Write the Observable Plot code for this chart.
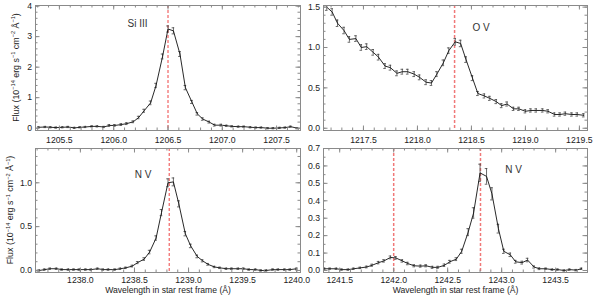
<!DOCTYPE html>
<html><head><meta charset="utf-8">
<script src="https://cdn.jsdelivr.net/npm/d3@7"></script>
<script src="https://cdn.jsdelivr.net/npm/@observablehq/plot@0.6"></script>
<style>
body{margin:0;background:#fff}
#chart{position:relative;width:598px;height:299px;background:#fff;overflow:hidden}
#chart svg{position:absolute;overflow:visible}
</style>
</head><body><div id="chart"></div>
<script>
// ---------- Panel 1: Si III ----------
const p1Wave = [1205.31,1205.37,1205.42,1205.47,1205.53,1205.58,1205.64,1205.69,1205.74,1205.80,1205.85,1205.91,1205.96,1206.01,1206.07,1206.12,1206.18,1206.23,1206.28,1206.34,1206.39,1206.45,1206.50,1206.55,1206.61,1206.66,1206.72,1206.77,1206.82,1206.88,1206.93,1206.99,1207.04,1207.09,1207.15,1207.20,1207.26,1207.31,1207.36,1207.42,1207.47,1207.53,1207.58,1207.63,1207.69];
const p1Flux = [0.03,0.04,0.03,0.02,0.03,0.04,0.01,0.03,0.04,0.06,0.06,0.04,0.09,0.09,0.12,0.15,0.21,0.35,0.57,0.83,1.40,2.35,3.25,3.19,2.43,1.33,0.86,0.47,0.30,0.20,0.10,0.10,0.08,0.06,0.05,0.05,0.03,0.02,0.02,0.00,0.00,0.01,0.02,0.05,0.00];
const p1Err  = [0.02,0.02,0.02,0.02,0.02,0.02,0.02,0.02,0.02,0.02,0.02,0.02,0.03,0.03,0.03,0.03,0.03,0.04,0.05,0.06,0.07,0.08,0.10,0.10,0.08,0.07,0.05,0.04,0.04,0.03,0.03,0.03,0.02,0.02,0.02,0.02,0.02,0.02,0.02,0.02,0.02,0.02,0.02,0.02,0.02];
const p1Rest = [1206.50];
const p1XTicks = [1205.5,1206.0,1206.5,1207.0,1207.5];
const p1YTicks = [0,1,2,3,4];

// ---------- Panel 2: O V ----------
const p2Wave = [1217.16,1217.21,1217.26,1217.32,1217.37,1217.43,1217.48,1217.53,1217.59,1217.64,1217.70,1217.75,1217.81,1217.86,1217.91,1217.97,1218.02,1218.08,1218.13,1218.18,1218.24,1218.29,1218.35,1218.40,1218.45,1218.51,1218.56,1218.62,1218.67,1218.73,1218.78,1218.83,1218.89,1218.94,1219.00,1219.05,1219.10,1219.16,1219.21,1219.27,1219.32,1219.37,1219.43,1219.48,1219.54];
const p2Flux = [1.50,1.44,1.30,1.21,1.10,1.11,1.00,1.01,0.94,0.88,0.77,0.75,0.68,0.70,0.70,0.67,0.63,0.57,0.56,0.67,0.81,0.96,1.07,1.05,0.85,0.62,0.43,0.40,0.37,0.33,0.28,0.30,0.24,0.24,0.21,0.22,0.22,0.22,0.21,0.17,0.17,0.18,0.17,0.17,0.16];
const p2Err  = [0.04,0.04,0.04,0.04,0.035,0.035,0.035,0.035,0.035,0.035,0.03,0.03,0.03,0.03,0.03,0.03,0.03,0.03,0.03,0.03,0.035,0.035,0.04,0.04,0.035,0.03,0.025,0.025,0.025,0.025,0.025,0.025,0.02,0.02,0.02,0.02,0.02,0.02,0.02,0.02,0.02,0.02,0.02,0.02,0.02];
const p2Rest = [1218.344];
const p2XTicks = [1217.5,1218.0,1218.5,1219.0,1219.5];
const p2YTicks = [0,0.5,1.0,1.5];

// ---------- Panel 3: N V 1238 ----------
const p3Wave = [1237.62,1237.67,1237.72,1237.78,1237.83,1237.89,1237.94,1237.99,1238.05,1238.10,1238.16,1238.21,1238.26,1238.32,1238.37,1238.42,1238.48,1238.53,1238.59,1238.64,1238.70,1238.75,1238.81,1238.86,1238.91,1238.97,1239.02,1239.08,1239.13,1239.18,1239.24,1239.29,1239.35,1239.40,1239.46,1239.51,1239.56,1239.62,1239.67,1239.72,1239.78,1239.83,1239.89,1239.94,1240.00];
const p3Flux = [0.00,0.01,0.02,0.02,0.01,0.01,0.01,0.01,0.01,0.01,0.02,0.01,0.01,0.01,0.02,0.03,0.05,0.09,0.13,0.21,0.37,0.66,1.00,1.01,0.76,0.42,0.28,0.16,0.11,0.07,0.04,0.03,0.02,0.02,0.02,0.02,0.01,0.01,0.00,0.00,0.01,0.01,0.01,0.01,0.02];
const p3Err  = [0.008,0.008,0.008,0.008,0.008,0.008,0.008,0.008,0.008,0.008,0.008,0.008,0.008,0.008,0.008,0.008,0.01,0.012,0.015,0.02,0.025,0.035,0.045,0.045,0.035,0.025,0.02,0.015,0.012,0.01,0.008,0.008,0.008,0.008,0.008,0.008,0.008,0.008,0.008,0.008,0.008,0.008,0.008,0.008,0.008];
const p3Rest = [1238.821];
const p3XTicks = [1238.0,1238.5,1239.0,1239.5,1240.0];
const p3YTicks = [0,0.5,1.0];

// ---------- Panel 4: N V 1242 ----------
const p4Wave = [1241.36,1241.41,1241.47,1241.52,1241.58,1241.63,1241.69,1241.75,1241.80,1241.86,1241.91,1241.97,1242.02,1242.08,1242.13,1242.19,1242.25,1242.30,1242.36,1242.41,1242.47,1242.52,1242.58,1242.63,1242.69,1242.74,1242.80,1242.86,1242.91,1242.97,1243.02,1243.08,1243.13,1243.19,1243.24,1243.30,1243.35,1243.41,1243.47,1243.52,1243.58,1243.63,1243.69,1243.74];
const p4Flux = [0.01,0.01,0.01,0.005,0.005,0.01,0.015,0.02,0.03,0.045,0.055,0.075,0.072,0.055,0.04,0.027,0.025,0.027,0.018,0.018,0.03,0.05,0.065,0.11,0.22,0.33,0.56,0.54,0.44,0.24,0.11,0.09,0.05,0.045,0.06,0.02,0.01,0.01,0.005,0.005,0.0,0.005,0.002,0.01];
const p4Err  = [0.004,0.004,0.004,0.004,0.004,0.004,0.004,0.005,0.006,0.007,0.007,0.008,0.008,0.007,0.007,0.006,0.006,0.006,0.006,0.006,0.007,0.008,0.008,0.012,0.02,0.03,0.05,0.045,0.035,0.025,0.012,0.01,0.008,0.008,0.01,0.006,0.005,0.004,0.004,0.004,0.004,0.004,0.004,0.004];
const p4Rest = [1242.00,1242.804];
const p4XTicks = [1241.5,1242.0,1242.5,1243.0,1243.5];
const p4YTicks = [0,0.1,0.2,0.3,0.4,0.5,0.6,0.7];

const xTitle = "Wavelength in star rest frame (Å)";

const FONT = "'Liberation Sans', Arial, Helvetica, sans-serif";
const FRAME = "#8a8a8a";
const RED = "#ee4444";

function minorTicks(dom, step) {
  const a = Math.ceil(dom[0] / step - 1e-9), b = Math.floor(dom[1] / step + 1e-9);
  return d3.range(a, b + 1).map(k => +(k * step).toFixed(4));
}

function addYLabel(svg, x, y) {
  const t = d3.select(svg).append("text")
    .attr("transform", `translate(${x},${y}) rotate(-90)`)
    .attr("text-anchor", "middle")
    .attr("font-family", FONT)
    .attr("font-size", 8.9)
    .attr("fill", "#222");
  const parts = [["Flux (10",0],["−14",1],[" erg s",0],["−1",1],[" cm",0],["−2",1],[" Å",0],["−1",1],[")",0]];
  let prev = 0;
  for (const [s, sup] of parts) {
    const dy = sup ? -3.4 : (prev ? 3.4 : 0);
    t.append("tspan").attr("dy", dy).attr("font-size", sup ? 5.6 : 8.9).text(s);
    prev = sup;
  }
}

function panel(c) {
  const data = c.wave.map((x, i) => ({x, y: c.flux[i], e: c.err[i]}));
  const fw = c.width - c.ml - c.mr, fh = c.height - c.mt - c.mb;
  const xMin = minorTicks(c.xDomain, 0.1), yMin = minorTicks(c.yDomain, c.yMinor);
  const MAJ = 4.5, MIN = 2.5;
  const cap = c.cap;
  const marks = [
    Plot.ruleX(c.rest, {x: d => d, stroke: c.red, strokeWidth: c.redW, strokeDasharray: "3,2"}),
    Plot.ruleX(data, {x: "x", y1: d => d.y - d.e, y2: d => d.y + d.e, stroke: "#444", strokeWidth: 0.8, clip: true}),
    Plot.ruleY(data, {y: d => d.y + d.e, x1: d => d.x - cap, x2: d => d.x + cap, stroke: "#444", strokeWidth: 0.8, clip: true}),
    Plot.ruleY(data, {y: d => d.y - d.e, x1: d => d.x - cap, x2: d => d.x + cap, stroke: "#444", strokeWidth: 0.8, clip: true}),
    Plot.line(data, {x: "x", y: "y", stroke: "#111", strokeWidth: 0.9, clip: true}),
    Plot.text([c.label], {x: "x", y: "y", text: "t", fontSize: 10, fill: "#333", fontFamily: FONT}),
    // inward ticks, all four sides
    Plot.tickX(c.xTicks, {x: d => d, insetTop: fh - MAJ, stroke: FRAME}),
    Plot.tickX(c.xTicks, {x: d => d, insetBottom: fh - MAJ, stroke: FRAME}),
    Plot.tickX(xMin, {x: d => d, insetTop: fh - MIN, stroke: FRAME}),
    Plot.tickX(xMin, {x: d => d, insetBottom: fh - MIN, stroke: FRAME}),
    Plot.tickY(c.yTicks, {y: d => d, insetRight: fw - MAJ, stroke: FRAME}),
    Plot.tickY(c.yTicks, {y: d => d, insetLeft: fw - MAJ, stroke: FRAME}),
    Plot.tickY(yMin, {y: d => d, insetRight: fw - MIN, stroke: FRAME}),
    Plot.tickY(yMin, {y: d => d, insetLeft: fw - MIN, stroke: FRAME}),
    Plot.frame({stroke: FRAME}),
    Plot.axisX(c.xTicks, {anchor: "bottom", tickSize: 0, tickPadding: c.xPad, tickFormat: d => d.toFixed(1), label: null}),
    Plot.axisY(c.yTicks, {anchor: "left", tickSize: 0, tickPadding: 3.5, tickFormat: c.yFmt, label: null})
  ];
  if (c.xTitle) marks.push(Plot.text([c.xTitle], {frameAnchor: "bottom", dy: 20, text: d => d, fontSize: 8.6, fill: "#222", fontFamily: FONT}));
  const svg = Plot.plot({
    width: c.width, height: c.height,
    marginLeft: c.ml, marginRight: c.mr, marginTop: c.mt, marginBottom: c.mb,
    x: {domain: c.xDomain, axis: null},
    y: {domain: c.yDomain, axis: null},
    style: {fontFamily: FONT, fontSize: "8.7px", color: "#222", background: "transparent", overflow: "visible"},
    marks
  });
  svg.style.left = c.left + "px";
  svg.style.top = c.top + "px";
  if (c.yLabel) addYLabel(svg, c.yLabel[0], c.yLabel[1]);
  document.getElementById("chart").appendChild(svg);
}

const f1 = d => d.toFixed(0), f2 = d => d.toFixed(1);

panel({left: 0, top: 0, width: 310, height: 147, ml: 35, mr: 10, mt: 5, mb: 17, xPad: 6,
  wave: p1Wave, flux: p1Flux, err: p1Err, rest: p1Rest, xTicks: p1XTicks, yTicks: p1YTicks,
  xDomain: [1205.28, 1207.72], yDomain: [-0.075, 4.02], yMinor: 0.2, yFmt: f1, cap: 0.012,
  red: RED, redW: 1, label: {t: "Si III", x: 1206.22, y: 3.43}, yLabel: [18.5, 67.5]});

panel({left: 300, top: 0, width: 298, height: 147, ml: 23, mr: 11, mt: 5, mb: 17, xPad: 6,
  wave: p2Wave, flux: p2Flux, err: p2Err, rest: p2Rest, xTicks: p2XTicks, yTicks: p2YTicks,
  xDomain: [1217.13, 1219.575], yDomain: [-0.028, 1.52], yMinor: 0.1, yFmt: f2, cap: 0.012,
  red: "#f07878", redW: 1.5, label: {t: "O V", x: 1218.59, y: 1.25}});

panel({left: 0, top: 143, width: 310, height: 156, ml: 35, mr: 10, mt: 5, mb: 27, xPad: 4.5,
  wave: p3Wave, flux: p3Flux, err: p3Err, rest: p3Rest, xTicks: p3XTicks, yTicks: p3YTicks,
  xDomain: [1237.585, 1240.035], yDomain: [-0.023, 1.391], yMinor: 0.1, yFmt: f2, cap: 0.012,
  red: RED, redW: 1, label: {t: "N V", x: 1238.58, y: 1.09}, xTitle, yLabel: [13, 67]});

panel({left: 300, top: 143, width: 298, height: 156, ml: 23, mr: 11, mt: 5, mb: 27, xPad: 4.5,
  wave: p4Wave, flux: p4Flux, err: p4Err, rest: p4Rest, xTicks: p4XTicks, yTicks: p4YTicks,
  xDomain: [1241.35, 1243.795], yDomain: [-0.0115, 0.7], yMinor: 0.05, yFmt: f2, cap: 0.012,
  red: "#f07878", redW: 1.5, label: {t: "N V", x: 1243.11, y: 0.58}, xTitle});
</script></body></html>
